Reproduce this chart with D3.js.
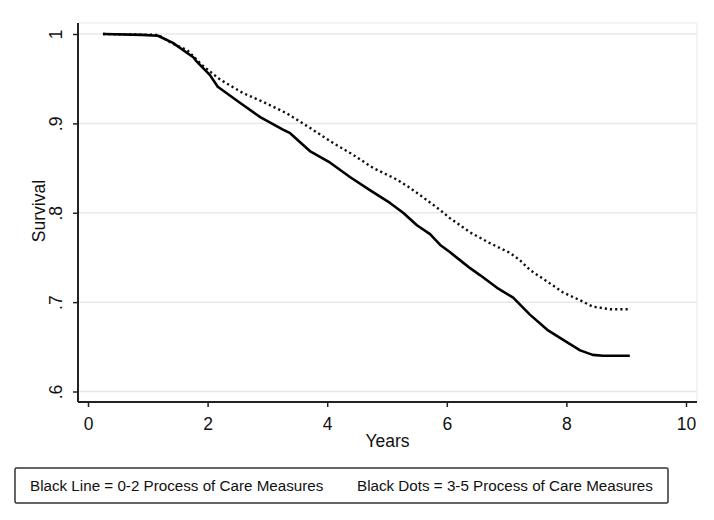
<!DOCTYPE html>
<html>
<head>
<meta charset="utf-8">
<script src="https://cdn.jsdelivr.net/npm/d3@7"></script>
<style>
  html, body { margin: 0; padding: 0; background: #fff; }
  svg { display: block; }
  text { font-family: Arial, "Liberation Sans", sans-serif; fill: #111; }
</style>
</head>
<body>
<svg id="chart" width="714" height="520"></svg>
<script>
// ---- data ----
const xTicks = [0, 2, 4, 6, 8, 10];
const yTicks = [0.6, 0.7, 0.8, 0.9, 1];
const yTickLabels = [".6", ".7", ".8", ".9", "1"];

const lineYears = [0.25, 0.9, 1.17, 1.42, 1.76, 1.82, 2.04, 2.17, 2.54, 2.88, 3.26, 3.38, 3.71, 4.05, 4.38, 4.72, 5.05, 5.27, 5.50, 5.72, 5.89, 6.05, 6.22, 6.39, 6.56, 6.84, 7.11, 7.39, 7.68, 7.94, 8.23, 8.44, 8.61, 9.06];
const lineSurvival = [1.0, 0.999, 0.998, 0.990, 0.974, 0.969, 0.954, 0.941, 0.923, 0.907, 0.893, 0.889, 0.869, 0.856, 0.840, 0.825, 0.811, 0.800, 0.786, 0.776, 0.764, 0.756, 0.747, 0.738, 0.730, 0.716, 0.705, 0.686, 0.669, 0.658, 0.646, 0.641, 0.640, 0.640];

const dotsYears = [0.25, 1.17, 1.42, 1.66, 1.91, 2.21, 2.59, 2.93, 3.33, 3.71, 4.10, 4.43, 4.77, 5.17, 5.38, 5.67, 5.89, 6.05, 6.39, 6.72, 7.06, 7.22, 7.39, 7.68, 7.94, 8.23, 8.44, 8.73, 9.06];
const dotsSurvival = [1.0, 0.999, 0.989, 0.982, 0.965, 0.949, 0.934, 0.924, 0.911, 0.895, 0.878, 0.865, 0.850, 0.837, 0.828, 0.814, 0.803, 0.794, 0.778, 0.766, 0.755, 0.747, 0.736, 0.723, 0.711, 0.702, 0.695, 0.692, 0.692];

const xTitle = "Years";
const yTitle = "Survival";
const legendLabels = ["Black Line = 0-2 Process of Care Measures", "Black Dots = 3-5 Process of Care Measures"];

// ---- layout ----
const FONT = "Arial, 'Liberation Sans', sans-serif";
const svg = d3.select("#chart");
const box = { left: 78, right: 697, top: 23, bottom: 402 };
const x = d3.scaleLinear().domain([0, 10]).range([88, 686]);
const y = d3.scaleLinear().domain([0.6, 1]).range([391.5, 34]);

// plot region faint border (top/right)
svg.append("line").attr("x1", box.left).attr("x2", box.right).attr("y1", box.top).attr("y2", box.top)
  .attr("stroke", "#eef2f2").attr("stroke-width", 1.5);
svg.append("line").attr("x1", box.right).attr("x2", box.right).attr("y1", box.top).attr("y2", box.bottom)
  .attr("stroke", "#eef2f2").attr("stroke-width", 1.5);

// gridlines
svg.append("g").selectAll("line").data(yTicks).join("line")
  .attr("x1", box.left).attr("x2", box.right)
  .attr("y1", d => y(d)).attr("y2", d => y(d))
  .attr("stroke", "#e3eaea").attr("stroke-width", 1.5);

// y axis
const yAxis = d3.axisLeft(y).tickValues(yTicks).tickSize(5).tickPadding(0)
  .tickFormat((d, i) => yTickLabels[i]);
const gy = svg.append("g").attr("transform", `translate(${box.left},0)`).call(yAxis);
gy.select(".domain").attr("d", `M0,${box.top}V${box.bottom}`).attr("stroke", "#222").attr("stroke-width", 2);
gy.selectAll(".tick line").attr("stroke", "#222").attr("stroke-width", 1.5);
gy.selectAll(".tick text")
  .attr("x", null).attr("dy", null)
  .attr("transform", "translate(-16,0) rotate(-90)")
  .attr("text-anchor", "middle")
  .style("font-size", "17.5px").style("font-family", FONT).attr("fill", "#111");

// x axis
const xAxis = d3.axisBottom(x).tickValues(xTicks).tickSize(5).tickPadding(0).tickFormat(d3.format("d"));
const gx = svg.append("g").attr("transform", `translate(0,${box.bottom})`).call(xAxis);
gx.select(".domain").attr("d", `M${box.left},0H${box.right}`).attr("stroke", "#222").attr("stroke-width", 2);
gx.selectAll(".tick line").attr("stroke", "#222").attr("stroke-width", 1.5);
gx.selectAll(".tick text").attr("dy", null).attr("y", 28)
  .style("font-size", "17.5px").style("font-family", FONT).attr("fill", "#111");

// axis titles
svg.append("text").attr("x", (box.left + box.right) / 2).attr("y", 447)
  .attr("text-anchor", "middle").style("font-size", "17.5px").text(xTitle);
svg.append("text").attr("transform", `translate(45,211) rotate(-90)`)
  .attr("text-anchor", "middle").style("font-size", "17.5px").text(yTitle);

// curves
const line = d3.line().x(d => x(d[0])).y(d => y(d[1])).curve(d3.curveLinear);
const dotsData = dotsYears.map((t, i) => [t, dotsSurvival[i]]);
const lineData = lineYears.map((t, i) => [t, lineSurvival[i]]);

svg.append("path").datum(dotsData).attr("d", line)
  .attr("fill", "none").attr("stroke", "#111").attr("stroke-width", 2.4)
  .attr("stroke-dasharray", "2.2,3");
svg.append("path").datum(lineData).attr("d", line)
  .attr("fill", "none").attr("stroke", "#000").attr("stroke-width", 2.6)
  .attr("stroke-linejoin", "round");

// legend
svg.append("rect").attr("x", 15).attr("y", 468).attr("width", 653).attr("height", 35)
  .attr("rx", 1.5).attr("fill", "#fff").attr("stroke", "#333").attr("stroke-width", 1.5);
svg.append("text").attr("x", 30).attr("y", 491).style("font-size", "15.2px").text(legendLabels[0]);
svg.append("text").attr("x", 357).attr("y", 491).style("font-size", "15.2px").text(legendLabels[1]);
</script>
</body>
</html>
